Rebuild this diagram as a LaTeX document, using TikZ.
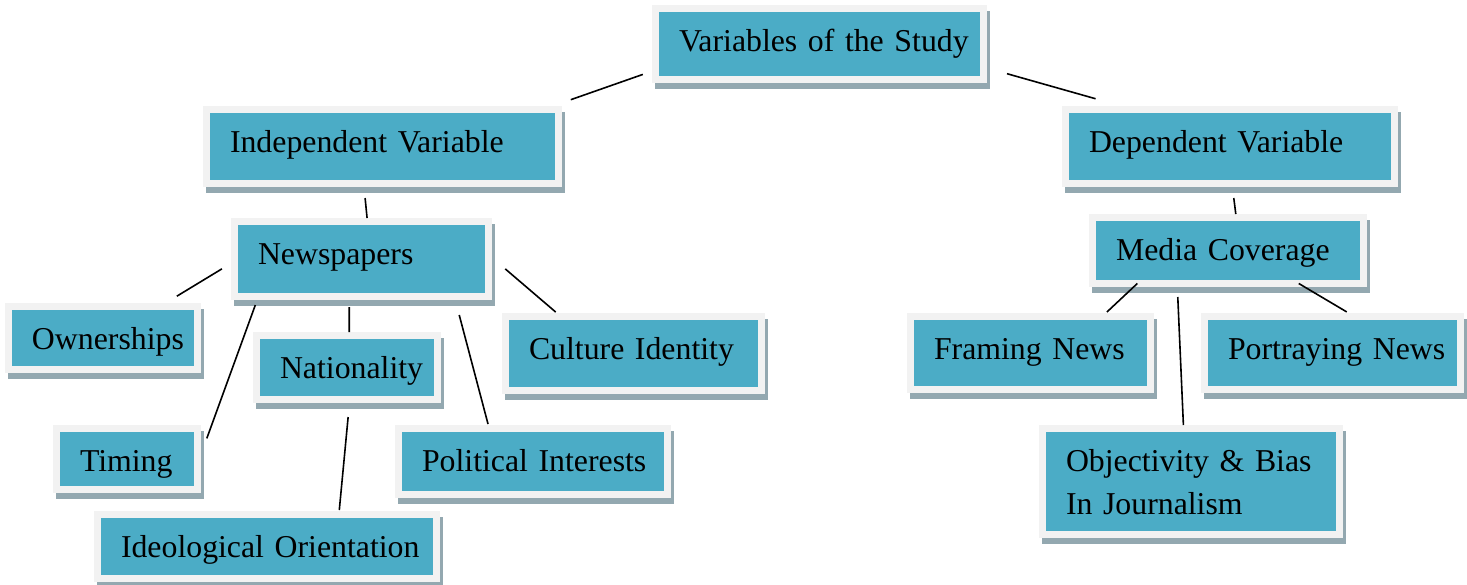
\documentclass[tikz,border=0pt]{standalone}
\usepackage{fontspec}
\setmainfont{Liberation Serif}
\usepackage{tikz}
\usetikzlibrary{shadows}

\definecolor{boxteal}{RGB}{75,172,198}
\definecolor{framegray}{RGB}{242,242,242}
\definecolor{shadowgray}{RGB}{147,168,176}

\begin{document}
\begin{tikzpicture}[x=0.5pt,y=-0.5pt,
  varbox/.style={draw=framegray, line width=3.5pt, fill=boxteal,
    inner xsep=0pt, inner ysep=0pt, outer sep=0pt,
    font={\fontsize{15.9pt}{21.5pt}\selectfont},
    execute at begin node={\leftskip=11.75pt},
    text height=21.25pt,
    drop shadow={shadow xshift=1.5pt, shadow yshift=-2.75pt,
      fill=shadowgray, draw=shadowgray, line width=3.5pt, opacity=1}},
  boxh/.style={minimum height=#1, text depth=#1-21.25pt},
  link/.style={line width=0.8pt}]
\useasboundingbox (0,0) rectangle (1467,584);

% Top of the tree
\node[varbox, text width=164pt, boxh=35.5pt] (study) at (819.5,44) {Variables of the Study};
\node[varbox, text width=176pt, boxh=37pt] (indep) at (382.5,146.5) {Independent Variable};
\node[varbox, text width=164.5pt, boxh=37pt] (dep) at (1230,146.5) {Dependent Variable};

% Independent side
\node[varbox, text width=127pt, boxh=37.5pt] (news) at (361.5,259) {Newspapers};
\node[varbox, text width=94.5pt, boxh=31.5pt] (owner) at (103,338) {Ownerships};
\node[varbox, text width=90.5pt, boxh=32pt] (nation) at (347,367.5) {Nationality};
\node[varbox, text width=128pt, boxh=37pt] (culture) at (633.5,353.5) {Culture Identity};
\node[varbox, text width=70.5pt, boxh=30.5pt] (timing) at (127,459) {Timing};
\node[varbox, text width=134.5pt, boxh=33pt] (political) at (533,461.5) {Political Interests};
\node[varbox, text width=169.5pt, boxh=32pt] (ideo) at (267,546.5) {Ideological Orientation};

% Dependent side
\node[varbox, text width=135.5pt, boxh=33pt] (media) at (1228,250.5) {Media Coverage};
\node[varbox, text width=120pt, boxh=36.5pt] (framing) at (1030.5,353) {Framing News};
\node[varbox, text width=128pt, boxh=36.5pt] (portray) at (1332.5,353) {Portraying News};
\node[varbox, text width=148.5pt, boxh=53pt] (obj) at (1191,481.5) {Objectivity \& Bias\\In Journalism};

% Connectors
\draw[link, shorten <=6.7pt, shorten >=14.8pt] (study.189) -- (indep.13);
\draw[link, shorten <=12.2pt, shorten >=19.75pt] (study.352) -- (dep.159);
\draw[link, shorten <=7.3pt, shorten >=1.75pt] (indep.243) -- (news.81);
\draw[link, shorten <=7.3pt, shorten >=1.75pt] (dep.273) -- (media.76);
\draw[link, shorten <=7.35pt, shorten >=9.95pt] (news.181) -- (owner.29);
\draw[link, shorten <=4.55pt, shorten >=13.6pt] (news.200) -- (timing.356);
\draw[link, shorten <=5.25pt, shorten >=1.75pt] (news.252) -- (nation.86);
\draw[link, shorten <=8.8pt, shorten >=2.25pt] (nation.275) -- (ideo.24);
\draw[link, shorten <=9.55pt, shorten >=2.3pt] (news.338) -- (political.143);
\draw[link, shorten <=11pt, shorten >=3.4pt] (news.2) -- (culture.153);
\draw[link, shorten >=3.25pt] (media.200) -- (framing.27);
\draw[link, shorten <=6.75pt, shorten >=1.75pt] (media.213) -- (obj.98);
\draw[link, shorten >=4.5pt] (media.335) -- (portray.59);

\end{tikzpicture}
\end{document}
